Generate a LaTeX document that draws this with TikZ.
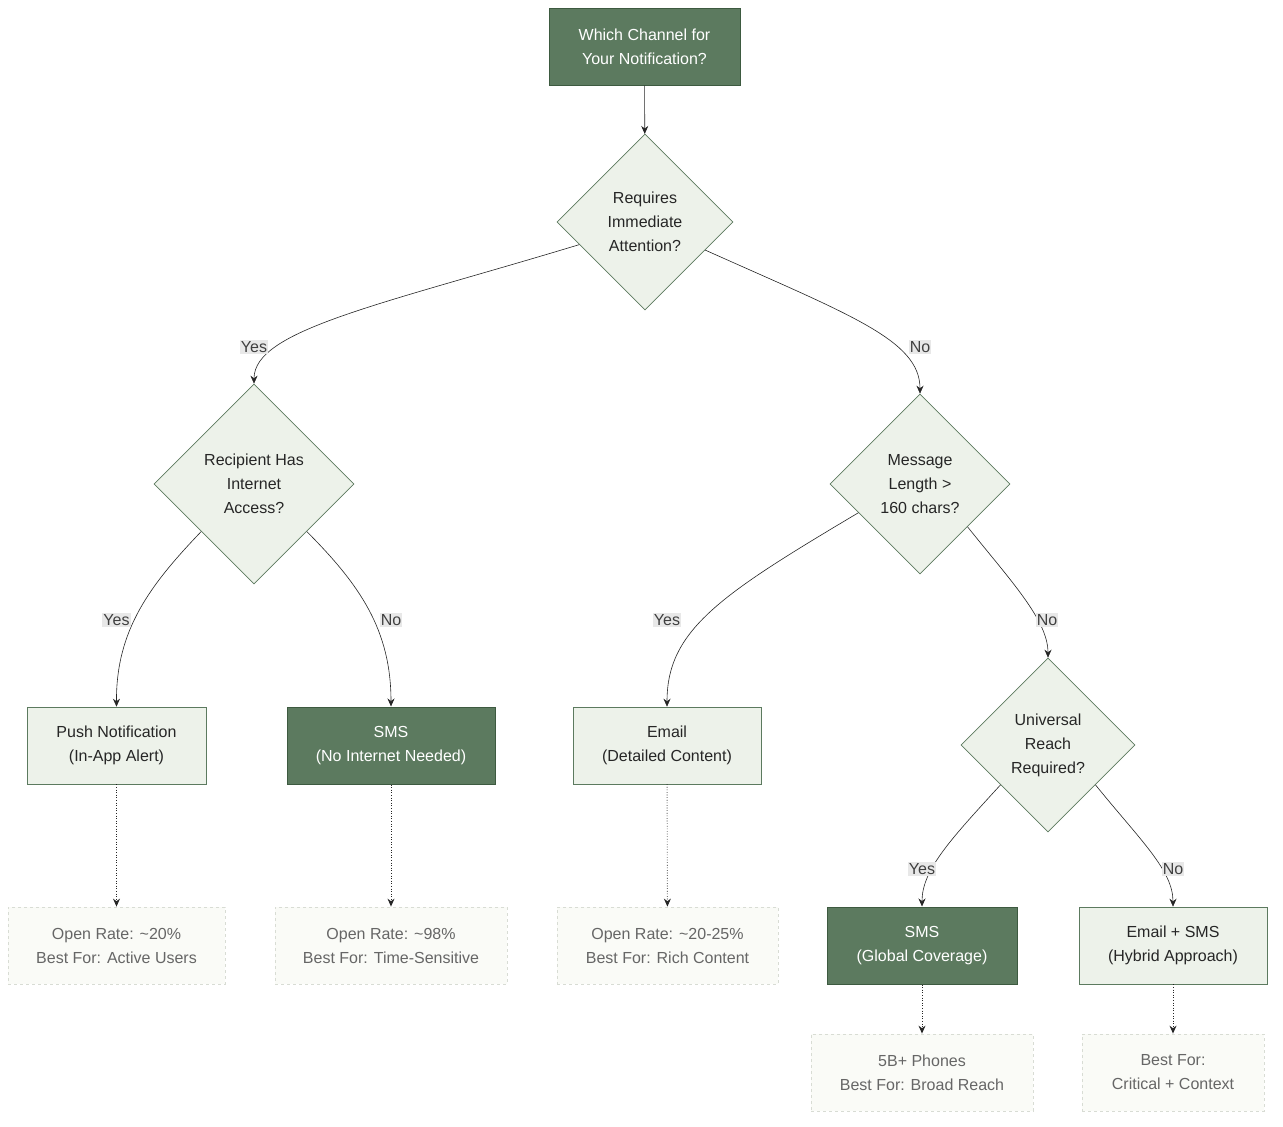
\documentclass[tikz,border=0pt]{standalone}
\usepackage{fontspec}
\setmainfont{Liberation Sans}
\usetikzlibrary{shapes.geometric,arrows.meta}
\definecolor{dk}{HTML}{5C7A5F}
\definecolor{dkb}{HTML}{3D5A40}
\definecolor{lt}{HTML}{EDF2EA}
\definecolor{ltb}{HTML}{5C7A5F}
\definecolor{nf}{HTML}{FAFBF7}
\definecolor{nb}{HTML}{D8DCD4}
\definecolor{nt}{HTML}{666666}
\definecolor{lb}{HTML}{E8E8E8}
\begin{document}
\begin{tikzpicture}[x=1pt,y=-1pt,
  every node/.style={font=\fontsize{16}{24}\selectfont, align=center},
  dark/.style={draw=dkb, fill=dk, text=white, line width=1pt, inner sep=0pt},
  light/.style={draw=ltb, fill=lt, text=black!85, line width=0.6pt, inner sep=0pt},
  dia/.style={diamond, draw=ltb, fill=lt, text=black!85, line width=0.6pt, inner sep=0pt, aspect=1},
  note/.style={draw=nb, dashed, fill=nf, text=nt, line width=0.8pt, inner sep=0pt, minimum height=77},
  lab/.style={fill=lb, text=black!75, inner sep=1pt},
  con/.style={draw=black!85, line width=0.6pt, -{Stealth[length=8pt,width=7pt]}},
  dot/.style={con, dotted, line width=0.9pt}]
\useasboundingbox (0,0) rectangle (1283,1127);
\node[dark, minimum width=191, minimum height=77] (top) at (644.5,46.5) {Which Channel for\\Your Notification?};
\node[dia, minimum width=176, minimum height=176] (d1) at (645,222) {Requires\\Immediate\\Attention?};
\node[dia, minimum width=200, minimum height=200] (d2) at (254,484) {Recipient Has\\Internet\\Access?};
\node[dia, minimum width=180, minimum height=180] (d3) at (920,484) {Message\\Length >\\160 chars?};
\node[dia, minimum width=174, minimum height=174] (d4) at (1048,745) {Universal\\Reach\\Required?};
\node[light, minimum width=179, minimum height=77] (push) at (116.5,745.5) {Push Notification\\(In-App Alert)};
\node[dark, minimum width=208, minimum height=77] (sms1) at (391,745.5) {SMS\\(No Internet Needed)};
\node[light, minimum width=188, minimum height=77] (email) at (667,745.5) {Email\\(Detailed Content)};
\node[dark, minimum width=190, minimum height=77] (sms2) at (922,945.5) {SMS\\(Global Coverage)};
\node[light, minimum width=188, minimum height=77] (es) at (1173,945.5) {Email + SMS\\(Hybrid Approach)};
\node[note, minimum width=217] (n1) at (116.5,945.5) {Open Rate: \textasciitilde20\%\\Best For: Active Users};
\node[note, minimum width=232] (n2) at (391,945.5) {Open Rate: \textasciitilde98\%\\Best For: Time-Sensitive};
\node[note, minimum width=221] (n3) at (667.5,945.5) {Open Rate: \textasciitilde20-25\%\\Best For: Rich Content};
\node[note, minimum width=222] (n4) at (922,1072.5) {5B+ Phones\\Best For: Broad Reach};
\node[note, minimum width=182] (n5) at (1173,1072.5) {Best For:\\Critical + Context};

\draw[con] (top) -- (d1);
\draw[con] (d1.199) .. controls (380,305) and (254,330) .. (d2.north);
\draw[con] (d1.335) .. controls (850,315) and (920,340) .. (d3.north);
\draw[con] (d2.222) .. controls (150,585) and (116,630) .. (push.north);
\draw[con] (d2.318) .. controls (360,585) and (391,630) .. (sms1.north);
\draw[con] (d3.205) .. controls (720,595) and (667,630) .. (email.north);
\draw[con] (d3.318) .. controls (1010,580) and (1048,620) .. (d4.north);
\draw[con] (d4.220) .. controls (950,840) and (922,870) .. (sms2.north);
\draw[con] (d4.320) .. controls (1140,840) and (1173,870) .. (es.north);
\draw[dot] (push) -- (n1);
\draw[dot] (sms1) -- (n2);
\draw[dot] (email) -- (n3);
\draw[dot] (sms2) -- (n4);
\draw[dot] (es) -- (n5);

\node[lab] (l1) at (254,347) {Yes};
\node[lab] (l2) at (920,347) {No};
\node[lab] (l3) at (116.5,620) {Yes};
\node[lab] (l4) at (391,620) {No};
\node[lab] (l5) at (667,620) {Yes};
\node[lab] (l6) at (1047,620) {No};
\node[lab] (l7) at (922,869) {Yes};
\node[lab] (l8) at (1173,869) {No};
\end{tikzpicture}
\end{document}
